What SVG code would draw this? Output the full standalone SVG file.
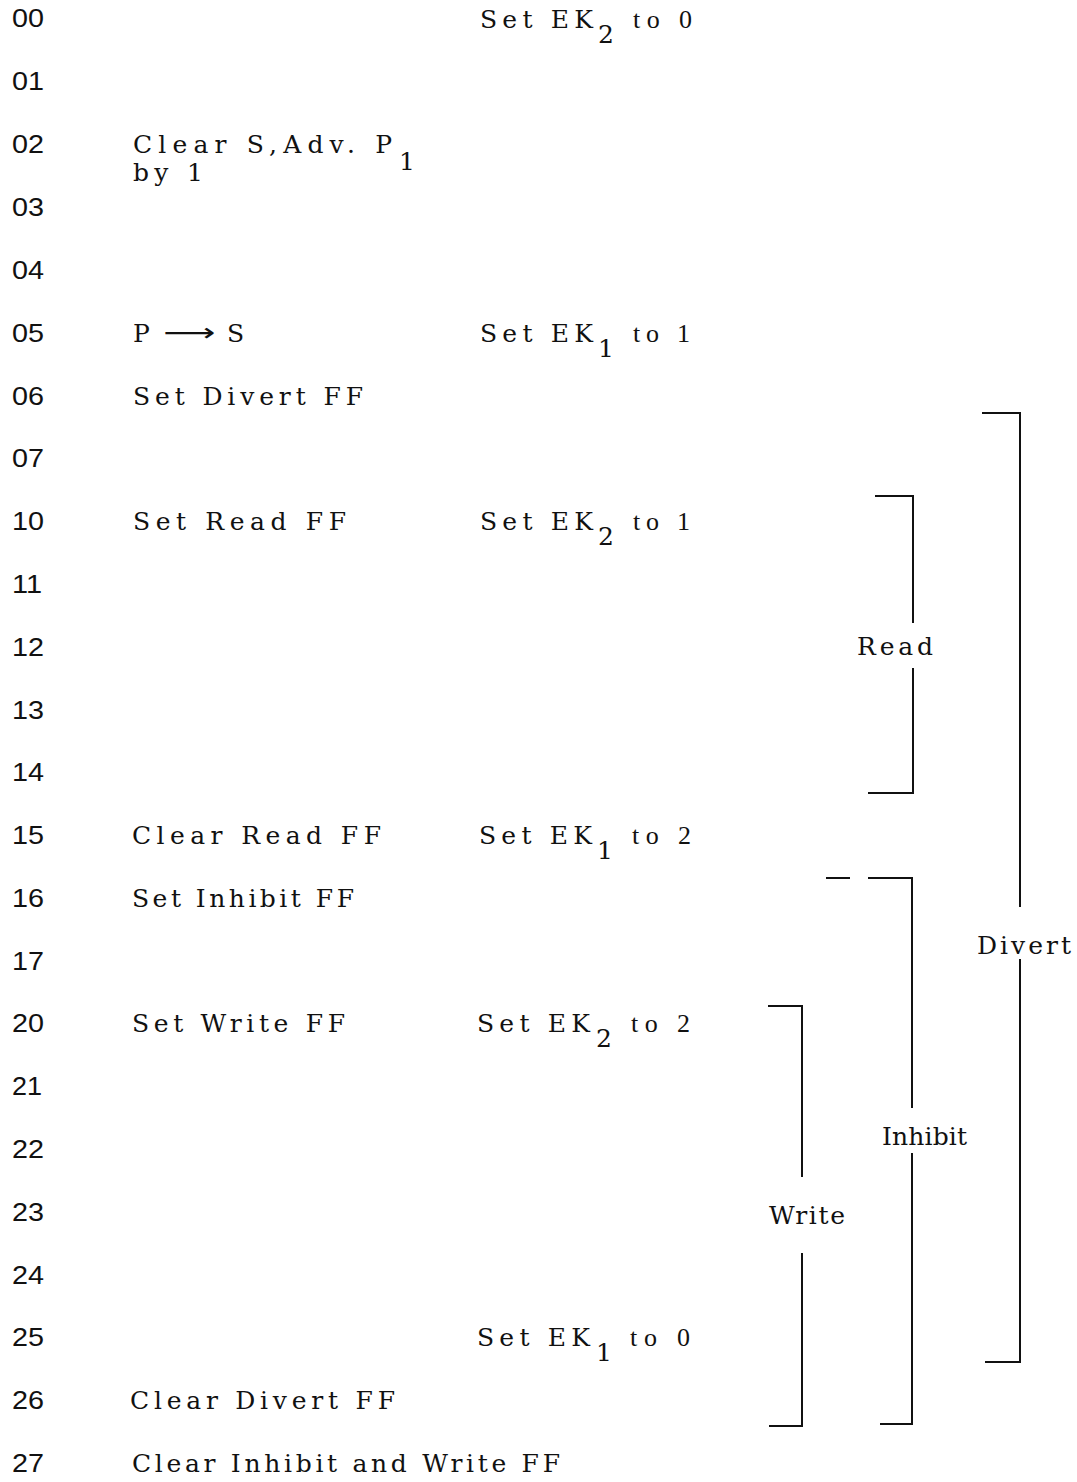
<svg xmlns="http://www.w3.org/2000/svg" width="1077" height="1482" viewBox="0 0 1077 1482">
<style>
.n{font-family:"Liberation Sans",Arial,sans-serif;font-size:25px;fill:#111}
.t{font-family:"DejaVu Serif","Liberation Serif",serif;font-size:25px;fill:#111}
.o{font-family:"Liberation Serif","Times New Roman",serif;font-size:26px;fill:#111}
.a{font-family:"DejaVu Sans",sans-serif;font-size:25px;fill:#111}
.br{fill:none;stroke:#111;stroke-width:2}
</style>
<rect width="1077" height="1482" fill="#fff"/>
<g id="row-numbers">
<text class="n" x="12" y="27" textLength="32" lengthAdjust="spacingAndGlyphs">00</text>
<text class="n" x="12" y="90" textLength="32" lengthAdjust="spacingAndGlyphs">01</text>
<text class="n" x="12" y="153" textLength="32" lengthAdjust="spacingAndGlyphs">02</text>
<text class="n" x="12" y="216" textLength="32" lengthAdjust="spacingAndGlyphs">03</text>
<text class="n" x="12" y="279" textLength="32" lengthAdjust="spacingAndGlyphs">04</text>
<text class="n" x="12" y="342" textLength="32" lengthAdjust="spacingAndGlyphs">05</text>
<text class="n" x="12" y="405" textLength="32" lengthAdjust="spacingAndGlyphs">06</text>
<text class="n" x="12" y="467" textLength="32" lengthAdjust="spacingAndGlyphs">07</text>
<text class="n" x="12" y="530" textLength="32" lengthAdjust="spacingAndGlyphs">10</text>
<text class="n" x="12" y="593" textLength="30" lengthAdjust="spacingAndGlyphs">11</text>
<text class="n" x="12" y="656" textLength="32" lengthAdjust="spacingAndGlyphs">12</text>
<text class="n" x="12" y="719" textLength="32" lengthAdjust="spacingAndGlyphs">13</text>
<text class="n" x="12" y="781" textLength="32" lengthAdjust="spacingAndGlyphs">14</text>
<text class="n" x="12" y="844" textLength="32" lengthAdjust="spacingAndGlyphs">15</text>
<text class="n" x="12" y="907" textLength="32" lengthAdjust="spacingAndGlyphs">16</text>
<text class="n" x="12" y="970" textLength="32" lengthAdjust="spacingAndGlyphs">17</text>
<text class="n" x="12" y="1032" textLength="32" lengthAdjust="spacingAndGlyphs">20</text>
<text class="n" x="12" y="1095" textLength="30" lengthAdjust="spacingAndGlyphs">21</text>
<text class="n" x="12" y="1158" textLength="32" lengthAdjust="spacingAndGlyphs">22</text>
<text class="n" x="12" y="1221" textLength="32" lengthAdjust="spacingAndGlyphs">23</text>
<text class="n" x="12" y="1284" textLength="32" lengthAdjust="spacingAndGlyphs">24</text>
<text class="n" x="12" y="1346" textLength="32" lengthAdjust="spacingAndGlyphs">25</text>
<text class="n" x="12" y="1409" textLength="32" lengthAdjust="spacingAndGlyphs">26</text>
<text class="n" x="12" y="1472" textLength="32" lengthAdjust="spacingAndGlyphs">27</text>
</g>
<g id="left-actions">
<text class="t" x="133" y="153" textLength="259" lengthAdjust="spacing">Clear S,Adv. P</text>
<text class="t" x="399" y="170">1</text>
<text class="t" x="133" y="181" textLength="70" lengthAdjust="spacing">by 1</text>
<text class="t" x="133" y="342">P</text>
<text class="a" x="163" y="341" textLength="52" lengthAdjust="spacingAndGlyphs">⟶</text>
<text class="t" x="227" y="342">S</text>
<text class="t" x="133" y="405" textLength="230" lengthAdjust="spacing">Set Divert FF</text>
<text class="t" x="133" y="530" textLength="213" lengthAdjust="spacing">Set Read FF</text>
<text class="t" x="132" y="844" textLength="249" lengthAdjust="spacing">Clear Read FF</text>
<text class="t" x="132" y="907" textLength="222" lengthAdjust="spacing">Set Inhibit FF</text>
<text class="t" x="132" y="1032" textLength="213" lengthAdjust="spacing">Set Write FF</text>
<text class="t" x="130" y="1409" textLength="265" lengthAdjust="spacing">Clear Divert FF</text>
<text class="t" x="132" y="1472" textLength="428" lengthAdjust="spacing">Clear Inhibit and Write FF</text>
</g>
<g id="right-actions">
<text class="t" x="480" y="28" textLength="113" lengthAdjust="spacing">Set EK</text>
<text class="t" x="598" y="43">2</text>
<text class="o" x="633" y="28" textLength="59" lengthAdjust="spacing">to 0</text>
<text class="t" x="480" y="342" textLength="113" lengthAdjust="spacing">Set EK</text>
<text class="t" x="598" y="357">1</text>
<text class="o" x="633" y="342" textLength="57" lengthAdjust="spacing">to 1</text>
<text class="t" x="480" y="530" textLength="113" lengthAdjust="spacing">Set EK</text>
<text class="t" x="598" y="545">2</text>
<text class="o" x="633" y="530" textLength="57" lengthAdjust="spacing">to 1</text>
<text class="t" x="479" y="844" textLength="113" lengthAdjust="spacing">Set EK</text>
<text class="t" x="597" y="859">1</text>
<text class="o" x="632" y="844" textLength="59" lengthAdjust="spacing">to 2</text>
<text class="t" x="477" y="1032" textLength="113" lengthAdjust="spacing">Set EK</text>
<text class="t" x="596" y="1047">2</text>
<text class="o" x="631" y="1032" textLength="59" lengthAdjust="spacing">to 2</text>
<text class="t" x="477" y="1346" textLength="113" lengthAdjust="spacing">Set EK</text>
<text class="t" x="596" y="1361">1</text>
<text class="o" x="630" y="1346" textLength="60" lengthAdjust="spacing">to 0</text>
</g>
<g id="connectors">
<g id="read-bracket">
<polyline class="br" points="875,496 913,496 913,623"/>
<polyline class="br" points="913,668 913,793 868,793"/>
<text class="t" x="857" y="655" textLength="76" lengthAdjust="spacing">Read</text>
</g>
<g id="divert-bracket">
<polyline class="br" points="982,413 1020,413 1020,907"/>
<polyline class="br" points="1020,959 1020,1362 985,1362"/>
<text class="t" x="977" y="954" textLength="94" lengthAdjust="spacing">Divert</text>
</g>
<g id="inhibit-bracket">
<line class="br" x1="826" y1="878" x2="850" y2="878"/>
<polyline class="br" points="868,878 912,878 912,1108"/>
<polyline class="br" points="912,1153 912,1424 880,1424"/>
<text class="t" x="882" y="1145" textLength="85" lengthAdjust="spacing">Inhibit</text>
</g>
<g id="write-bracket">
<polyline class="br" points="768,1006 802,1006 802,1177"/>
<polyline class="br" points="802,1253 802,1426 769,1426"/>
<text class="t" x="769" y="1224" textLength="76" lengthAdjust="spacing">Write</text>
</g>
</g>
</svg>
